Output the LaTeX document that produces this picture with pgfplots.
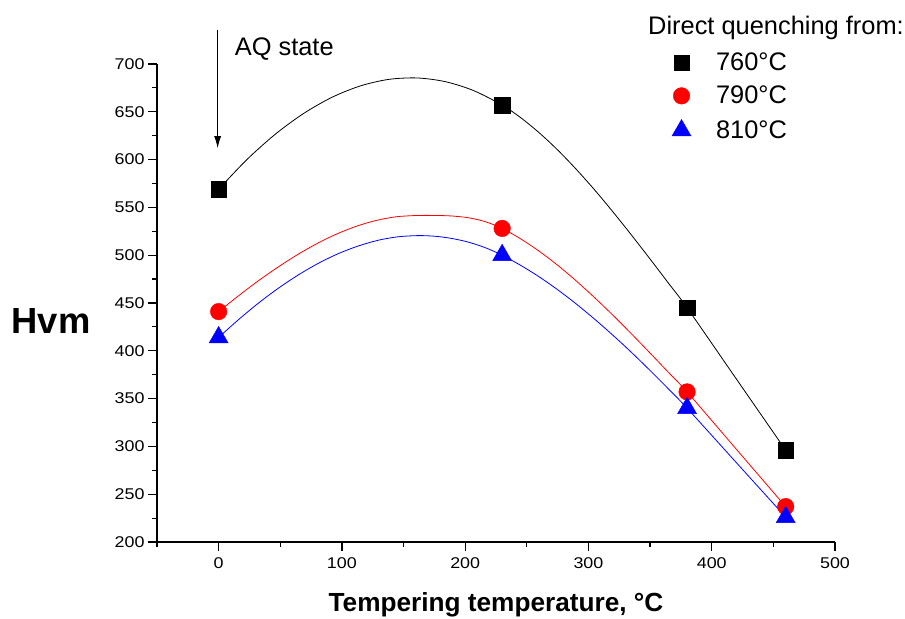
\documentclass[border=0pt]{standalone}
\usepackage{fontspec}
\setmainfont{Liberation Sans}
\newfontfamily\tickfont{Liberation Sans}[FakeStretch=1.15]
\usepackage{pgfplots}
\pgfplotsset{compat=1.18}
\usetikzlibrary{arrows.meta}
\begin{document}
\begin{tikzpicture}
\begin{axis}[
  at={(0,0)}, anchor=south west,
  scale only axis, width=678bp, height=478bp,
  xmin=-50, xmax=500, ymin=200, ymax=700,
  axis x line*=bottom, axis y line*=left,
  xtick={0,100,...,500}, minor xtick={-50,50,150,250,350,450},
  ytick={200,250,...,700}, minor ytick={225,275,...,675},
  tick align=outside, major tick length=9bp, minor tick length=5bp,
  axis line style={line width=1.2bp, black},
  every tick/.style={black, line width=1.2bp},
  /pgf/number format/assume math mode=true,
  tick label style={font=\tickfont\fontsize{15.6}{18}\selectfont},
  xticklabel style={yshift=-3bp},
  xlabel={\textbf{Tempering temperature, °C}},
  xlabel style={font=\fontsize{26.3}{30}\selectfont, at={(axis description cs:0.5,-0.1444)}, anchor=base},
  ylabel={\textbf{Hvm}},
  ylabel style={font=\fontsize{36.5}{40}\selectfont, rotate=-90, at={(axis description cs:-0.1563,0.4372)}, anchor=base},
  clip=false,
  legend style={draw=none, fill=none, inner sep=0pt, outer sep=0pt,
    at={(axis description cs:0.7596,1.023)}, anchor=north west,
    font=\fontsize{25.5}{28}\selectfont, row sep=14bp, nodes={inner sep=0pt},
    /tikz/every odd column/.append style={column sep=25bp}},
  legend cell align=left,
]
% fitted curves
\addplot[black, line width=0.8bp, smooth, forget plot] coordinates {
(0,569) (23,600.1) (46,626.6) (69,648.3) (92,665.2) (115,677.1) (138,683.9)
(161,685.4) (184,681.5) (207,672.1) (230,657) (245,643.9) (260,628.1) (275,610.1)
(290,590.0) (305,568.3) (320,545.1) (335,520.9) (350,496.0) (365,470.6) (380,445)
(420,370.5) (460,296)};
\addplot[red, line width=0.8bp, smooth, forget plot] coordinates {
(0,441) (16,457.4) (32,473.0) (48,487.4) (64,500.6) (80,512.3) (96,522.3)
(112,530.4) (128,536.4) (144,540.2) (160,541.5) (174,541.6) (188,541.1)
(202,539.3) (216,535.2) (230,528) (245,517.1) (260,504.2) (275,489.5)
(290,473.2) (305,455.6) (320,437.0) (335,417.6) (350,397.6) (365,377.3)
(380,357) (420,297) (460,237)};
\addplot[blue, line width=0.8bp, smooth, forget plot] coordinates {
(0,414) (16.2,432.7) (32.4,450.0) (48.6,465.6) (64.8,479.5) (81,491.6)
(97.2,501.7) (113.4,509.7) (129.6,515.7) (145.8,519.3) (162,520.5)
(175.6,519.8) (189.2,517.5) (202.8,513.6) (216.4,507.8) (230,500)
(245,489.4) (260,477.4) (275,463.9) (290,449.1) (305,433.1) (320,416.1)
(335,398.2) (350,379.4) (365,360.0) (380,340) (420,283) (460,226)};
% data points
\addplot[only marks, mark=square*, mark size=7.8bp, black] coordinates {(0,569) (230,657) (380,445) (460,296)};
\addlegendentry{760°C}
\addplot[only marks, mark=*, mark size=8.3bp, red] coordinates {(0,441) (230,528) (380,357) (460,237)};
\addlegendentry{790°C}
\addplot[only marks, mark=triangle*, mark size=11bp, blue] coordinates {(0,414) (230,500) (380,340) (460,226)};
\addlegendentry{810°C}
% annotations
\draw[line width=0.8bp, -{Latex[length=12bp,width=7bp]}] (axis cs:-0.8,735.6) -- (axis cs:-0.8,612);
\node[anchor=base west, inner sep=0pt, font=\fontsize{25.5}{28}\selectfont] at (axis cs:13,708.9) {AQ state};
\node[anchor=base west, inner sep=0pt, font=\fontsize{25.5}{28}\selectfont] at (axis description cs:0.7242,1.0617) {Direct quenching from:};
\end{axis}
\pgfresetboundingbox
\path[use as bounding box] (-157bp,-77bp) rectangle (748bp,542bp);
\end{tikzpicture}
\end{document}
